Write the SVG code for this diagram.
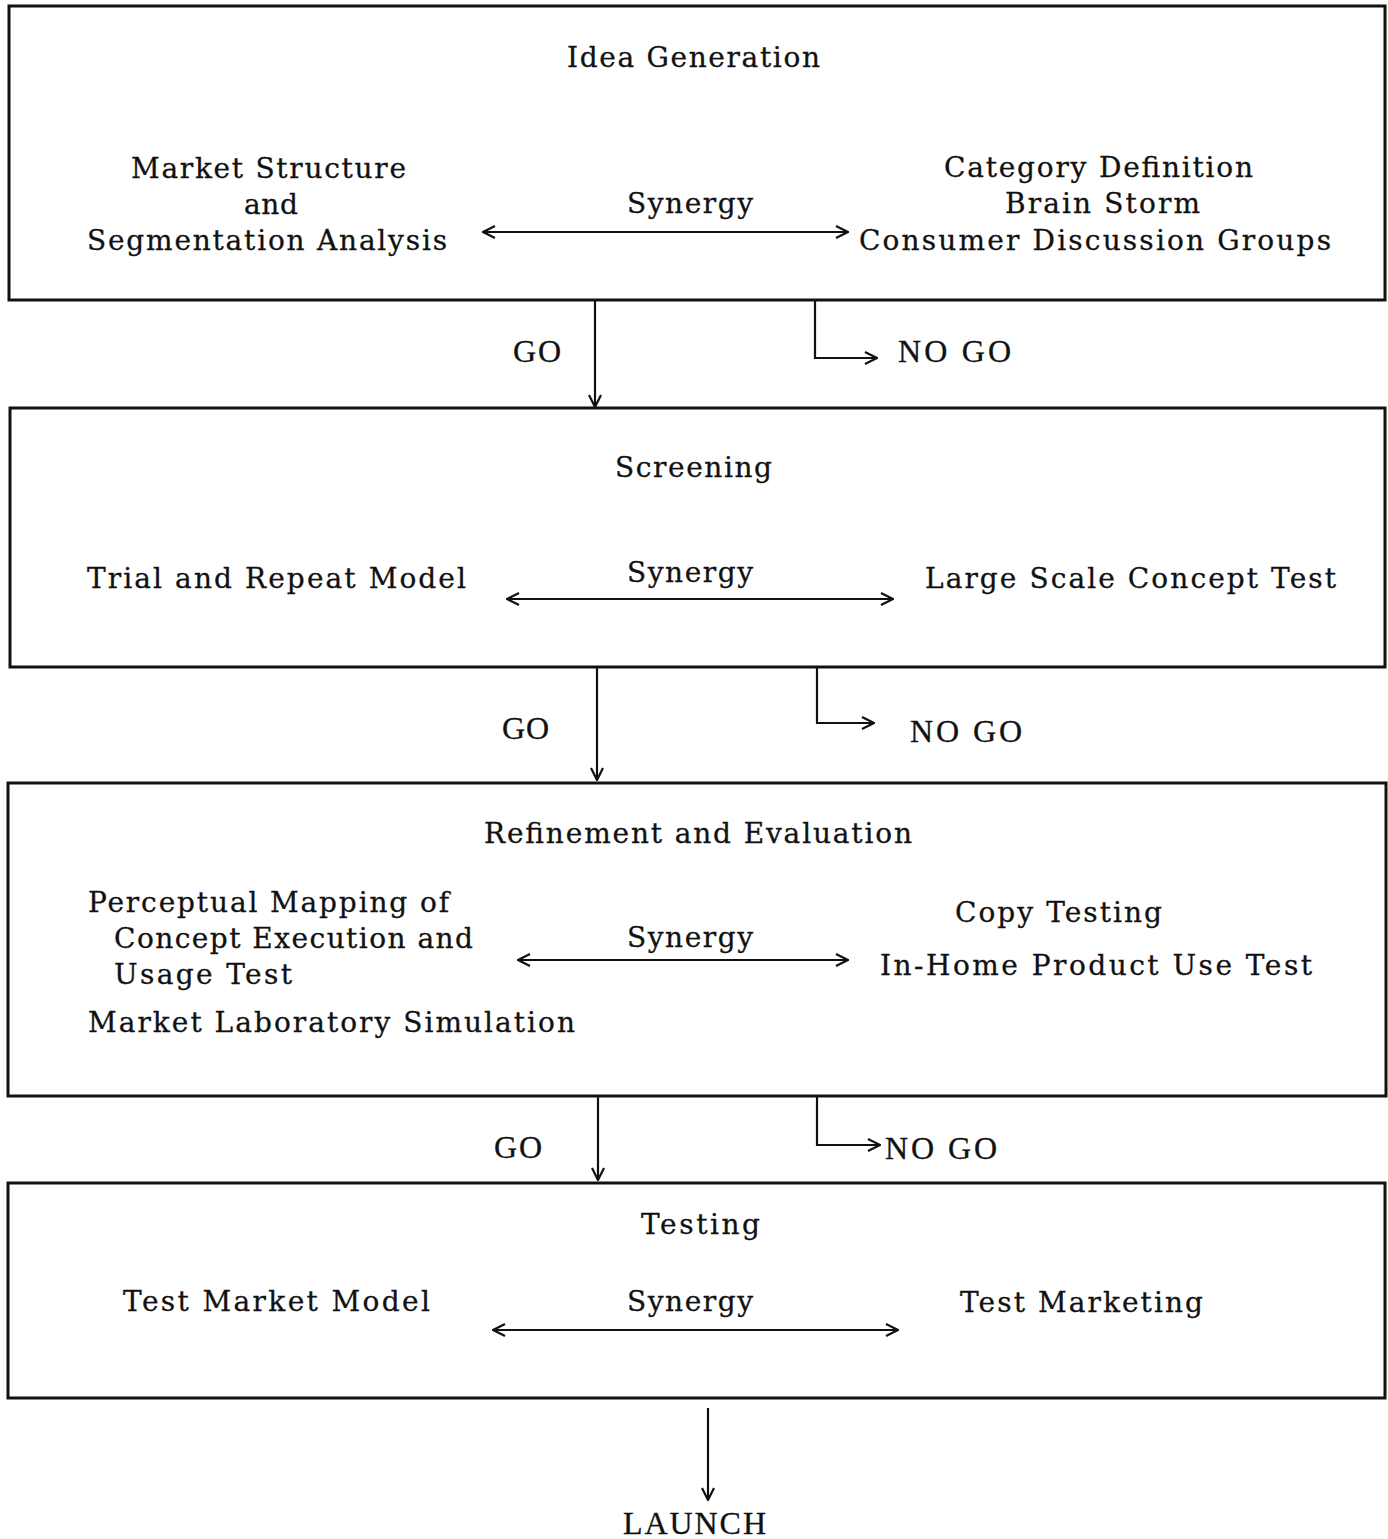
<svg xmlns="http://www.w3.org/2000/svg" width="1388" height="1539" viewBox="0 0 1388 1539">
<style>
.box{fill:none;stroke:#111;stroke-width:3}
.t{font-family:"DejaVu Serif","Liberation Serif",serif;font-size:28px;fill:#111;stroke:#111;stroke-width:0.3}
.g{font-family:"Liberation Serif","DejaVu Serif",serif;font-size:32px;fill:#111;stroke:#111;stroke-width:0.3}
.ln{fill:none;stroke:#111;stroke-width:2.2}
</style>
<defs>
<marker id="ah" viewBox="0 0 14 14" refX="13" refY="7" markerWidth="14" markerHeight="14" markerUnits="userSpaceOnUse" orient="auto-start-reverse">
<path d="M1,1 L13,7 L1,13" fill="none" stroke="#111" stroke-width="2.2"/>
</marker>
</defs>
<rect width="1388" height="1539" fill="#fff"/>

<g id="idea-generation">
<rect class="box" x="9" y="6" width="1376" height="294"/>
<text class="t" x="567" y="67" textLength="253" lengthAdjust="spacing">Idea Generation</text>
<text class="t" x="131" y="178" textLength="275" lengthAdjust="spacing">Market Structure</text>
<text class="t" x="244" y="214" textLength="54" lengthAdjust="spacing">and</text>
<text class="t" x="87" y="250" textLength="360" lengthAdjust="spacing">Segmentation Analysis</text>
<text class="t" x="627" y="213" textLength="126" lengthAdjust="spacing">Synergy</text>
<text class="t" x="944" y="177" textLength="309" lengthAdjust="spacing">Category Definition</text>
<text class="t" x="1005" y="213" textLength="195" lengthAdjust="spacing">Brain Storm</text>
<text class="t" x="859" y="250" textLength="472" lengthAdjust="spacing">Consumer Discussion Groups</text>
</g>

<g id="screening">
<rect class="box" x="10" y="408" width="1375" height="259"/>
<text class="t" x="615" y="477" textLength="157" lengthAdjust="spacing">Screening</text>
<text class="t" x="87" y="588" textLength="379" lengthAdjust="spacing">Trial and Repeat Model</text>
<text class="t" x="627" y="582" textLength="126" lengthAdjust="spacing">Synergy</text>
<text class="t" x="925" y="588" textLength="411" lengthAdjust="spacing">Large Scale Concept Test</text>
</g>

<g id="refinement">
<rect class="box" x="8" y="783" width="1378" height="313"/>
<text class="t" x="484" y="843" textLength="428" lengthAdjust="spacing">Refinement and Evaluation</text>
<text class="t" x="88" y="912" textLength="361" lengthAdjust="spacing">Perceptual Mapping of</text>
<text class="t" x="114" y="948" textLength="359" lengthAdjust="spacing">Concept Execution and</text>
<text class="t" x="114" y="984" textLength="178" lengthAdjust="spacing">Usage Test</text>
<text class="t" x="88" y="1032" textLength="487" lengthAdjust="spacing">Market Laboratory Simulation</text>
<text class="t" x="627" y="947" textLength="126" lengthAdjust="spacing">Synergy</text>
<text class="t" x="955" y="922" textLength="207" lengthAdjust="spacing">Copy Testing</text>
<text class="t" x="880" y="975" textLength="432" lengthAdjust="spacing">In-Home Product Use Test</text>
</g>

<g id="testing">
<rect class="box" x="8" y="1183" width="1377" height="215"/>
<text class="t" x="641" y="1234" textLength="119" lengthAdjust="spacing">Testing</text>
<text class="t" x="123" y="1311" textLength="307" lengthAdjust="spacing">Test Market Model</text>
<text class="t" x="627" y="1311" textLength="126" lengthAdjust="spacing">Synergy</text>
<text class="t" x="960" y="1312" textLength="243" lengthAdjust="spacing">Test Marketing</text>
</g>

<g id="launch">
<text class="g" x="623" y="1534" textLength="143" lengthAdjust="spacing">LAUNCH</text>
</g>

<g id="connectors">
<line class="ln" x1="483" y1="232" x2="848" y2="232" marker-start="url(#ah)" marker-end="url(#ah)"/>
<line class="ln" x1="507" y1="599" x2="893" y2="599" marker-start="url(#ah)" marker-end="url(#ah)"/>
<line class="ln" x1="518" y1="960" x2="848" y2="960" marker-start="url(#ah)" marker-end="url(#ah)"/>
<line class="ln" x1="493" y1="1330" x2="898" y2="1330" marker-start="url(#ah)" marker-end="url(#ah)"/>

<line class="ln" x1="595" y1="300" x2="595" y2="407" marker-end="url(#ah)"/>
<path class="ln" d="M815,300 V358 H877" marker-end="url(#ah)"/>
<text class="g" x="513" y="362" textLength="48" lengthAdjust="spacing">GO</text>
<text class="g" x="898" y="362" textLength="113" lengthAdjust="spacing">NO  GO</text>

<line class="ln" x1="597" y1="667" x2="597" y2="780" marker-end="url(#ah)"/>
<path class="ln" d="M817,667 V723 H874" marker-end="url(#ah)"/>
<text class="g" x="502" y="739" textLength="47" lengthAdjust="spacing">GO</text>
<text class="g" x="910" y="742" textLength="112" lengthAdjust="spacing">NO  GO</text>

<line class="ln" x1="598" y1="1096" x2="598" y2="1180" marker-end="url(#ah)"/>
<path class="ln" d="M817,1096 V1145 H880" marker-end="url(#ah)"/>
<text class="g" x="494" y="1158" textLength="48" lengthAdjust="spacing">GO</text>
<text class="g" x="885" y="1159" textLength="112" lengthAdjust="spacing">NO  GO</text>

<line class="ln" x1="708" y1="1408" x2="708" y2="1500" marker-end="url(#ah)"/>
</g>
</svg>
